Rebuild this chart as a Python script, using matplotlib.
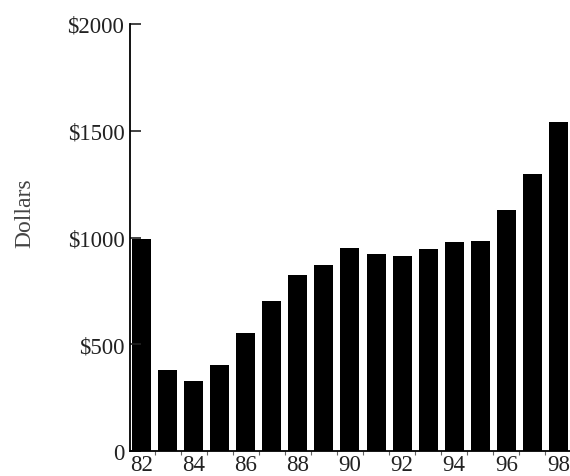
import matplotlib
matplotlib.use('Agg')
import matplotlib.pyplot as plt

# values (dollars per year)
years = [82, 83, 84, 85, 86, 87, 88, 89, 90, 91, 92, 93, 94, 95, 96, 97, 98]
dollars = [995, 380, 330, 405, 555, 705, 825, 870, 950, 925, 915, 945, 980, 985, 1130, 1295, 1540]
ytick_vals = [0, 500, 1000, 1500, 2000]
ytick_labels = ['0', '$500', '$1000', '$1500', '$2000']
xtick_vals = [82, 84, 86, 88, 90, 92, 94, 96, 98]

plt.rcParams['font.family'] = ['Liberation Serif', 'DejaVu Serif']

fig = plt.figure(figsize=(5.7, 4.77), dpi=100)
ax = fig.add_axes([0.228, 0.052, 0.772, 0.896])

ax.bar(years, dollars, width=0.73, color='black')

ax.set_xlim(81.55, 98.45)
ax.set_ylim(0, 2000)
ax.set_yticks(ytick_vals)
ax.set_yticklabels(ytick_labels)
ax.set_xticks(xtick_vals)
ax.set_xticklabels([str(y) for y in xtick_vals])
ax.set_xticks([y + 0.5 for y in years[:-1]], minor=True)

ax.spines['top'].set_visible(False)
ax.spines['right'].set_visible(False)
ax.spines['left'].set_linewidth(1.3)
ax.spines['bottom'].set_linewidth(1.3)

ax.tick_params(axis='y', direction='in', length=8, width=1.2, labelsize=16.5, pad=4, colors='#222222')
ax.tick_params(axis='x', which='major', length=0, labelsize=16.5, pad=2, colors='#222222')
ax.tick_params(axis='x', which='minor', direction='out', length=3, width=0.8, color='#666666')

ax.set_ylabel('Dollars', fontsize=17, color='#444444', labelpad=22)
ax.yaxis.set_label_coords(-0.215, 0.56)

plt.savefig('out.png', dpi=100)
plt.close()
